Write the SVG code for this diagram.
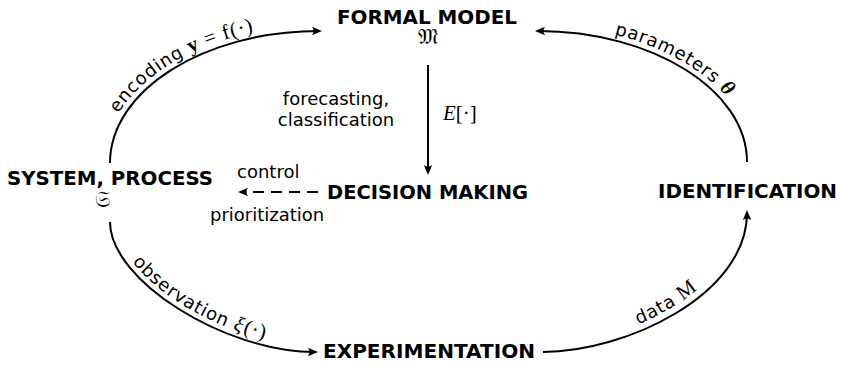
<svg xmlns="http://www.w3.org/2000/svg" xmlns:xlink="http://www.w3.org/1999/xlink" width="841" height="366" viewBox="0 0 841 366">
<style>
.h{font-family:"DejaVu Sans","Liberation Sans",sans-serif;font-weight:bold;font-size:19px;fill:#000}
.l{font-family:"DejaVu Sans","Liberation Sans",sans-serif;font-size:18px;fill:#000}
.cl{font-family:"DejaVu Sans","Liberation Sans",sans-serif;font-size:18px;letter-spacing:0.8px;fill:#000}
.m{font-family:"Liberation Serif","DejaVu Serif",serif;font-size:21px;fill:#000}
.fk{font-family:"DejaVu Serif","DejaVu Sans","Noto Sans",serif;font-size:22px;fill:#000}
.c{fill:none;stroke:#000;stroke-width:2}
</style>
<defs>
<marker id="ah" viewBox="-9 -5 13 10" refX="0" refY="0" markerWidth="13" markerHeight="10" markerUnits="userSpaceOnUse" orient="auto">
<path d="M3,0 L-7,-4.2 Q-4,0 -7,4.2 Z" fill="#000"/>
</marker>
<path id="tpTL" d="M104,163 C104,87 202,25 322,25"/>
<path id="tpTR" d="M535,25 C655,25 753,87 753,162"/>
<path id="tpBL" d="M116,222 C116,277 225,346 318,346"/>
<path id="tpBR" d="M543,345 C620,345 740,292 740,210"/>
</defs>
<rect width="841" height="366" fill="#fff"/>
<g id="connectors">
<path class="c" d="M110,163 C110,90 205,31 319,31" marker-end="url(#ah)"/>
<path class="c" d="M747,162 C747,90 652,31 538,31" marker-end="url(#ah)"/>
<path class="c" d="M110,222 C110,280 224,352 315,352" marker-end="url(#ah)"/>
<path class="c" d="M543,352 C625,352 747,295 747,213" marker-end="url(#ah)"/>
<line class="c" x1="428" y1="65" x2="428" y2="172" marker-end="url(#ah)"/>
<line class="c" x1="318" y1="192" x2="241" y2="192" stroke-dasharray="11 7" marker-end="url(#ah)"/>
<text class="cl"><textPath xlink:href="#tpTL" startOffset="52">encoding <tspan class="m" font-weight="bold">y</tspan><tspan class="m"> = </tspan><tspan class="m">f(·)</tspan></textPath></text>
<text class="cl"><textPath xlink:href="#tpTR" startOffset="80">parameters  <tspan class="m" font-weight="bold" font-style="italic">θ</tspan></textPath></text>
<text class="cl"><textPath xlink:href="#tpBL" startOffset="44">observation <tspan class="m" font-style="italic">ξ</tspan><tspan class="m" dx="1">(·)</tspan></textPath></text>
<text class="cl"><textPath xlink:href="#tpBR" startOffset="98">data <tspan class="m">M</tspan></textPath></text>
<text class="l" x="336" y="105" text-anchor="middle">forecasting,</text>
<text class="l" x="336" y="126" text-anchor="middle">classification</text>
<text class="m" x="443" y="120"><tspan font-style="italic">E</tspan>[·]</text>
<text class="l" x="237" y="178">control</text>
<text class="l" x="210" y="221">prioritization</text>
</g>
<g id="formal-model">
<text class="h" x="337" y="24" textLength="180" lengthAdjust="spacingAndGlyphs">FORMAL MODEL</text>
<text class="fk" x="428" y="44" text-anchor="middle">𝔐</text>
</g>
<g id="system-process">
<text class="h" x="7" y="185" textLength="206" lengthAdjust="spacingAndGlyphs">SYSTEM, PROCESS</text>
<text class="fk" x="102" y="207" text-anchor="middle">𝔖</text>
</g>
<g id="decision-making">
<text class="h" x="327" y="199" textLength="201" lengthAdjust="spacingAndGlyphs">DECISION MAKING</text>
</g>
<g id="identification">
<text class="h" x="658" y="198" textLength="179" lengthAdjust="spacingAndGlyphs">IDENTIFICATION</text>
</g>
<g id="experimentation">
<text class="h" x="323" y="358" textLength="212" lengthAdjust="spacingAndGlyphs">EXPERIMENTATION</text>
</g>
</svg>
